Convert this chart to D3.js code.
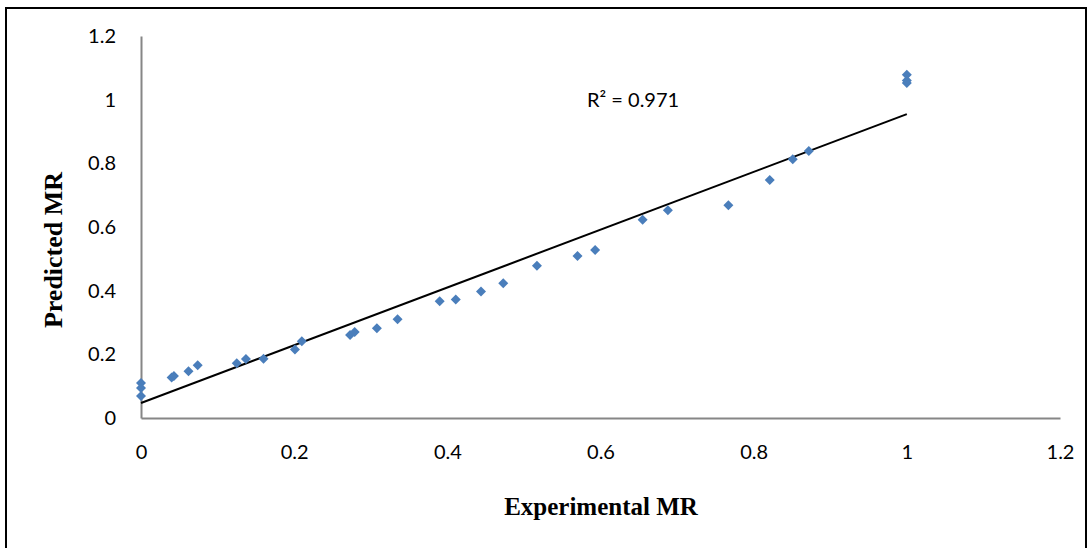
<!DOCTYPE html>
<html>
<head>
<meta charset="utf-8">
<script src="https://cdn.jsdelivr.net/npm/d3@7"></script>
<style>
  body { margin: 0; background: #fff; }
  .tick text { font-family: Lato, "Open Sans", sans-serif; font-size: 20px; fill: #000; }
</style>
</head>
<body>
<div id="chart"></div>
<script>
// Data
var expMR = [0, 0, 0, 0.04, 0.043, 0.062, 0.074, 0.125, 0.137, 0.16, 0.201, 0.21,
             0.273, 0.279, 0.308, 0.335, 0.39, 0.411, 0.444, 0.473, 0.517,
             0.57, 0.593, 0.655, 0.688, 0.767, 0.821, 0.851, 0.872, 1, 1, 1];
var predMR = [0.11, 0.094, 0.069, 0.127, 0.132, 0.147, 0.166, 0.172, 0.185, 0.186, 0.215, 0.241,
              0.261, 0.270, 0.282, 0.31, 0.367, 0.372, 0.397, 0.423, 0.478,
              0.509, 0.528, 0.623, 0.653, 0.668, 0.748, 0.813, 0.839, 1.078, 1.06, 1.052];
var xTicks = [0, 0.2, 0.4, 0.6, 0.8, 1, 1.2];
var yTicks = [0, 0.2, 0.4, 0.6, 0.8, 1, 1.2];
var r2Label = "R\u00b2 = 0.971";

var width = 1092, height = 548;
var margin = {top: 36, bottom: 130, left: 141, right: 32};

var svg = d3.select('#chart')
  .append('svg')
  .attr('width', width)
  .attr('height', height);

// outer frame
svg.append('rect')
  .attr('x', 6).attr('y', 8)
  .attr('width', 1080).attr('height', 560)
  .attr('fill', 'none')
  .attr('stroke', '#000')
  .attr('stroke-width', 2);

var xScale = d3.scaleLinear().domain([0, 1.2]).range([margin.left, width - margin.right]);
var yScale = d3.scaleLinear().domain([0, 1.2]).range([height - margin.bottom, margin.top]);

var fmt = function(d) { return d3.format('~g')(d); };

// axes
var yAxis = svg.append('g')
  .attr('transform', `translate(${margin.left},0)`)
  .call(d3.axisLeft(yScale).tickValues(yTicks).tickFormat(fmt).tickSize(0).tickPadding(25));

var xAxis = svg.append('g')
  .attr('transform', `translate(0,${height - margin.bottom})`)
  .call(d3.axisBottom(xScale).tickValues(xTicks).tickFormat(fmt).tickSize(0).tickPadding(27));

svg.selectAll('.domain').attr('stroke', '#868686').attr('stroke-width', 2);

// trend line (least squares)
var mx = d3.mean(expMR), my = d3.mean(predMR);
var sxy = d3.sum(expMR, function(d, i) { return (d - mx) * (predMR[i] - my); });
var sxx = d3.sum(expMR, function(d) { return (d - mx) * (d - mx); });
var slope = sxy / sxx, intercept = my - slope * mx;
var xExt = d3.extent(expMR);

svg.append('line')
  .attr('x1', xScale(xExt[0])).attr('y1', yScale(intercept + slope * xExt[0]))
  .attr('x2', xScale(xExt[1])).attr('y2', yScale(intercept + slope * xExt[1]))
  .attr('stroke', '#000')
  .attr('stroke-width', 2);

// points
var diamond = d3.symbol().type(d3.symbolSquare).size(50);
svg.selectAll('path.pt')
  .data(expMR)
  .enter()
  .append('path')
  .attr('class', 'pt')
  .attr('d', diamond)
  .attr('transform', function(d, i) {
    return `translate(${xScale(d)},${yScale(predMR[i])}) rotate(45)`;
  })
  .attr('fill', '#4a7ebb');

// R² annotation
svg.append('text')
  .attr('x', 587).attr('y', 107)
  .style('font-family', 'Lato, "Open Sans", sans-serif')
  .style('font-size', '20px')
  .text(r2Label);

// axis titles
svg.append('text')
  .attr('x', 601).attr('y', 515)
  .attr('text-anchor', 'middle')
  .style('font-family', '"Liberation Serif", "Times New Roman", serif')
  .style('font-weight', 'bold')
  .style('font-size', '25px')
  .text('Experimental MR');

svg.append('text')
  .attr('transform', 'translate(62,250) rotate(-90)')
  .attr('text-anchor', 'middle')
  .style('font-family', '"Liberation Serif", "Times New Roman", serif')
  .style('font-weight', 'bold')
  .style('font-size', '26px')
  .text('Predicted MR');
</script>
</body>
</html>
